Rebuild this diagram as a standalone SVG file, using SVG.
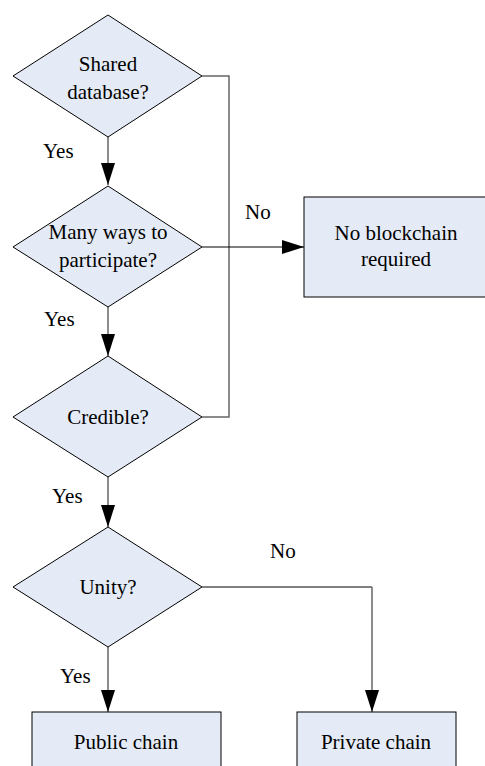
<svg xmlns="http://www.w3.org/2000/svg" width="485" height="766" viewBox="0 0 485 766">
<defs>
<style>
.shape{fill:#E5EBF6;stroke:#000;stroke-width:1}
.t{font-family:"Liberation Serif","Times New Roman",serif;font-size:21px;fill:#000;text-anchor:middle}
.l{font-family:"Liberation Serif","Times New Roman",serif;font-size:21px;fill:#000}
.c{fill:none;stroke:#000;stroke-width:1}
.g{fill:none;stroke:#666;stroke-width:1.5}
</style>
<marker id="ah" markerUnits="userSpaceOnUse" markerWidth="22" markerHeight="14" refX="22" refY="7" orient="auto">
<path d="M0,0 L22,7 L0,14 z" fill="#000"/>
</marker>
</defs>
<rect width="485" height="766" fill="#fff"/>
<g id="connectors">
<path class="g" d="M108,137 V185" marker-end="url(#ah)"/>
<path class="g" d="M108,307 V356" marker-end="url(#ah)"/>
<path class="g" d="M108,477 V527" marker-end="url(#ah)"/>
<path class="g" d="M108,647 V712" marker-end="url(#ah)"/>
<path class="g" d="M202,76 H229 V417 H202"/>
<path class="c" d="M202,247 H304" marker-end="url(#ah)"/>
<path class="c" d="M202,587 H372"/>
<path class="g" d="M372,587 V712" marker-end="url(#ah)"/>
<text class="l" x="43" y="158">Yes</text>
<text class="l" x="44" y="326">Yes</text>
<text class="l" x="52" y="503">Yes</text>
<text class="l" x="60" y="683">Yes</text>
<text class="l" x="245" y="219">No</text>
<text class="l" x="270" y="558">No</text>
</g>
<g id="shared">
<polygon class="shape" points="108,15 202,76 108,137 13,76"/>
<text class="t" x="108" y="71">Shared</text>
<text class="t" x="108" y="99">database?</text>
</g>
<g id="many">
<polygon class="shape" points="108,186 202,247 108,307 13,247"/>
<text class="t" x="108" y="239">Many ways to</text>
<text class="t" x="108" y="267">participate?</text>
</g>
<g id="credible">
<polygon class="shape" points="108,356 202,417 108,477 13,417"/>
<text class="t" x="108" y="424">Credible?</text>
</g>
<g id="unity">
<polygon class="shape" points="108,527 202,587 108,647 13,587"/>
<text class="t" x="108" y="594">Unity?</text>
</g>
<g id="noblock">
<rect class="shape" x="304" y="197" width="190" height="100"/>
<text class="t" x="396" y="240">No blockchain</text>
<text class="t" x="396" y="266">required</text>
</g>
<g id="public">
<rect class="shape" x="32" y="712" width="189" height="70"/>
<text class="t" x="126" y="749">Public chain</text>
</g>
<g id="private">
<rect class="shape" x="297" y="712" width="159" height="70"/>
<text class="t" x="376" y="749">Private chain</text>
</g>
</svg>
